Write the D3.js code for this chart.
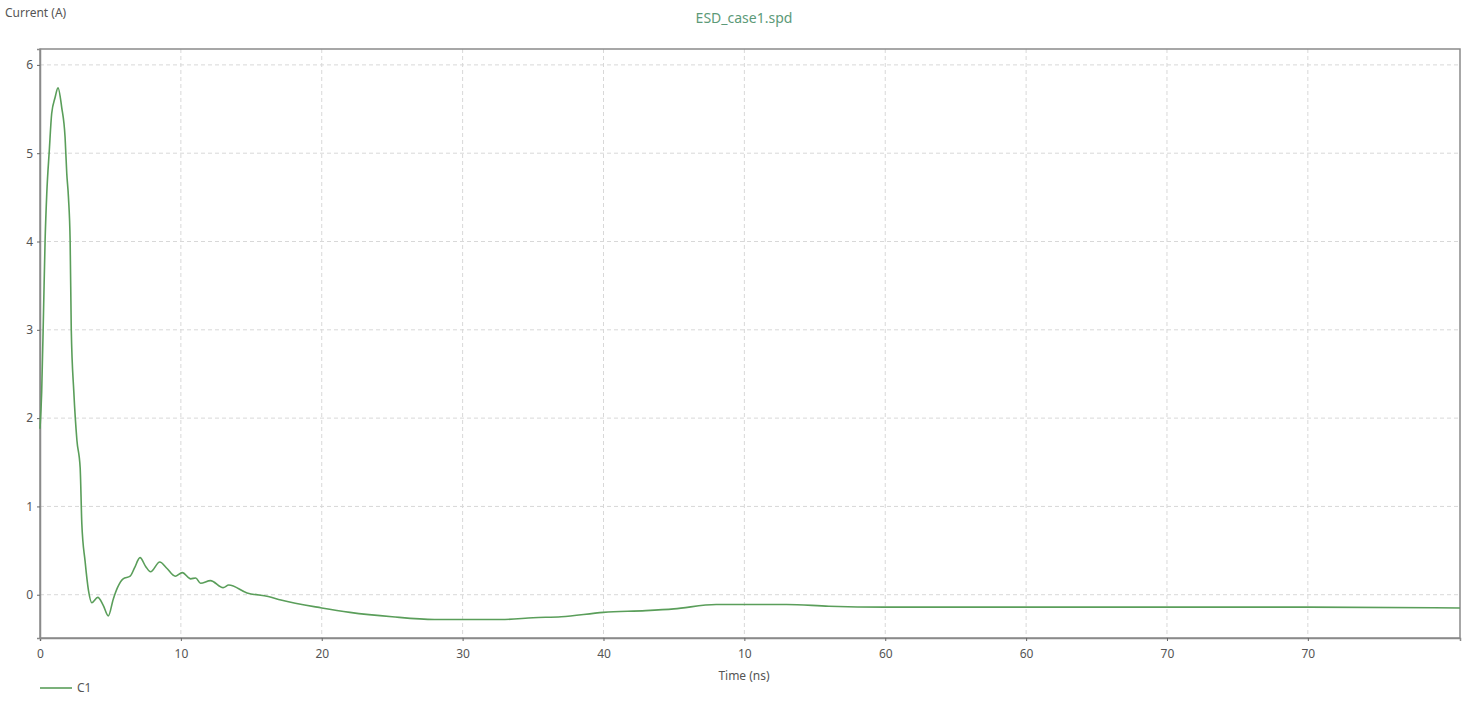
<!DOCTYPE html>
<html>
<head>
<meta charset="utf-8">
<script src="https://cdn.jsdelivr.net/npm/d3@7"></script>
<style>
  body { margin: 0; background: #fff; }
  text { font-family: "Noto Sans", "Open Sans", sans-serif; }
</style>
</head>
<body>
<svg id="chart" width="1472" height="704"></svg>
<script>
// Waveform: time (ns) and current (A)
var timeNs = [
    0.00, 0.12, 0.25, 0.36, 0.48, 0.66, 0.83, 1.07, 1.28, 1.54,
    1.78, 1.90, 2.02, 2.14, 2.22, 2.40, 2.62, 2.85, 2.97, 3.20,
    3.44, 3.68, 4.10, 4.49, 4.85, 5.20, 5.50, 5.90, 6.40, 6.70,
    7.10, 7.50, 7.85, 8.50, 9.00, 9.60, 10.1, 10.7, 11.05, 11.4,
    12.1, 13.0, 13.4, 14.7, 16.2, 17.1, 20.0, 22.0, 25.0, 28.0,
    30.0, 33.0, 35.0, 37.0, 40.0, 43.0, 45.0, 48.0, 50.0, 53.0,
    56.0, 60.0, 70.0, 80.0, 90.0, 100.8
];
var currentA = [
    1.88, 2.30, 3.20, 4.00, 4.54, 5.03, 5.45, 5.63, 5.74, 5.52,
    5.18, 4.77, 4.50, 4.00, 3.00, 2.30, 1.75, 1.44, 0.80, 0.38,
    0.05, -0.09, -0.03, -0.12, -0.24, -0.05, 0.08, 0.18, 0.21, 0.30,
    0.42, 0.32, 0.26, 0.37, 0.30, 0.21, 0.25, 0.18, 0.19, 0.13,
    0.16, 0.08, 0.11, 0.02, -0.02, -0.06, -0.15, -0.20, -0.25, -0.28,
    -0.28, -0.28, -0.26, -0.25, -0.20, -0.18, -0.16, -0.11, -0.11, -0.11,
    -0.13, -0.14, -0.14, -0.14, -0.14, -0.15
];

// Tick values and the labels exactly as printed in the picture
var xTicks = [0, 10, 20, 30, 40, 50, 60, 70, 80, 90];
var xTickLabels = ["0", "10", "20", "30", "40", "10", "60", "60", "70", "70"];
var yTicks = [0, 1, 2, 3, 4, 5, 6];

var seriesName = "C1";
var chartTitle = "ESD_case1.spd";

var svg = d3.select("#chart");

// Plot area
const plot = {left: 40, right: 1460, top: 49, bottom: 638};

var x = d3.scaleLinear()
    .domain([0, 100.8])
    .range([plot.left, plot.right]);

var y = d3.scaleLinear()
    .domain([-0.49, 6.18])
    .range([plot.bottom, plot.top]);

var lineColor = "#5a9e5a";
var axisColor = "#8a8a8a";
var gridColor = "#d8d8d8";
var textColor = "#555";

// Grid lines
svg.append("g")
    .selectAll("line")
    .data(xTicks.slice(1))
    .join("line")
    .attr("x1", d => x(d)).attr("x2", d => x(d))
    .attr("y1", plot.top).attr("y2", plot.bottom)
    .attr("stroke", gridColor)
    .attr("stroke-dasharray", "4,3");

svg.append("g")
    .selectAll("line")
    .data(yTicks)
    .join("line")
    .attr("x1", plot.left).attr("x2", plot.right)
    .attr("y1", d => y(d)).attr("y2", d => y(d))
    .attr("stroke", gridColor)
    .attr("stroke-dasharray", "4,3");

// Border around plot
svg.append("rect")
    .attr("x", plot.left)
    .attr("y", plot.top)
    .attr("width", plot.right - plot.left)
    .attr("height", plot.bottom - plot.top)
    .attr("fill", "none")
    .attr("stroke", axisColor)
    .attr("stroke-width", 1.5);

// Axes
var xAxis = svg.append("g")
    .attr("transform", `translate(0, ${plot.bottom})`)
    .call(d3.axisBottom(x)
        .tickValues(xTicks)
        .tickSize(3)
        .tickFormat((d, i) => xTickLabels[i]));

var yAxis = svg.append("g")
    .attr("transform", `translate(${plot.left}, 0)`)
    .call(d3.axisLeft(y)
        .tickValues(yTicks)
        .tickSize(3)
        .tickFormat(d3.format("d")));

[xAxis, yAxis].forEach(function(g) {
    g.select(".domain").attr("stroke", axisColor).attr("stroke-width", 1.5);
    g.selectAll(".tick line").attr("stroke", "#666");
    g.selectAll(".tick text")
        .attr("fill", textColor)
        .style("font-size", "12px");
});
xAxis.selectAll(".tick text").attr("dy", "1.2em");
yAxis.selectAll(".tick text").attr("x", -7);

// Current waveform
var points = timeNs.map((t, i) => [t, currentA[i]]);

svg.append("path")
    .datum(points)
    .attr("fill", "none")
    .attr("stroke", lineColor)
    .attr("stroke-width", 1.6)
    .attr("d", d3.line()
        .x(d => x(d[0]))
        .y(d => y(d[1]))
        .curve(d3.curveMonotoneX));

// Titles and labels
svg.append("text")
    .attr("x", 744)
    .attr("y", 23)
    .attr("text-anchor", "middle")
    .attr("fill", "#5c9a78")
    .style("font-size", "14px")
    .text(chartTitle);

svg.append("text")
    .attr("x", 5)
    .attr("y", 17)
    .attr("fill", textColor)
    .style("font-size", "12px")
    .text("Current (A)");

svg.append("text")
    .attr("x", 744)
    .attr("y", 680)
    .attr("text-anchor", "middle")
    .attr("fill", textColor)
    .style("font-size", "12px")
    .text("Time (ns)");

// Legend
svg.append("line")
    .attr("x1", 40).attr("x2", 72)
    .attr("y1", 688).attr("y2", 688)
    .attr("stroke", lineColor)
    .attr("stroke-width", 1.6);

svg.append("text")
    .attr("x", 77)
    .attr("y", 692)
    .attr("fill", textColor)
    .style("font-size", "12px")
    .text(seriesName);
</script>
</body>
</html>
